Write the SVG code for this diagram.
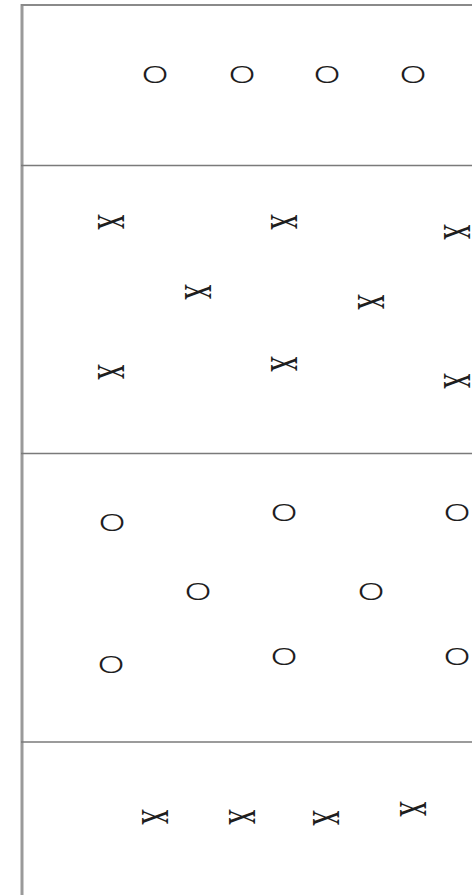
<svg xmlns="http://www.w3.org/2000/svg" width="472" height="895" viewBox="0 0 472 895">
<style>
.bg{fill:#ffffff}
.frame{stroke:#9a9a9a;stroke-width:3;fill:none}
.sep{stroke:#7a7a7a;stroke-width:1.5;fill:none}
.top{stroke:#8a8a8a;stroke-width:2;fill:none}
text{font-size:20px;fill:#1e1e1e;text-anchor:middle}
.x{font-family:"Liberation Serif","Times New Roman",serif}
.o{font-family:"DejaVu Sans",sans-serif;font-weight:200}
</style>
<rect class="bg" x="0" y="0" width="472" height="895"/>
<g id="lines">
<line class="frame" x1="22" y1="4" x2="22" y2="895"/>
<line class="top" x1="21" y1="5" x2="472" y2="5"/>
<line class="sep" x1="21" y1="165.5" x2="472" y2="165.5"/>
<line class="sep" x1="21" y1="453.5" x2="472" y2="453.5"/>
<line class="sep" x1="21" y1="742" x2="472" y2="742"/>
</g>
<g id="row1">
<g id="o1"><text class="o" transform="translate(155,74) scale(2.5,1.55)" y="5.5">o</text></g>
<g id="o2"><text class="o" transform="translate(242,74) scale(2.5,1.55)" y="5.5">o</text></g>
<g id="o3"><text class="o" transform="translate(327,74) scale(2.5,1.55)" y="5.5">o</text></g>
<g id="o4"><text class="o" transform="translate(413,74) scale(2.5,1.55)" y="5.5">o</text></g>
</g>
<g id="row2">
<g id="x1"><text class="x" transform="translate(111,222) rotate(90) scale(1.55,2.9)" y="4.6">x</text></g>
<g id="x2"><text class="x" transform="translate(284,222) rotate(90) scale(1.55,2.9)" y="4.6">x</text></g>
<g id="x3"><text class="x" transform="translate(457,232) rotate(90) scale(1.55,2.9)" y="4.6">x</text></g>
<g id="x4"><text class="x" transform="translate(198,292) rotate(90) scale(1.55,2.9)" y="4.6">x</text></g>
<g id="x5"><text class="x" transform="translate(371,302) rotate(90) scale(1.55,2.9)" y="4.6">x</text></g>
<g id="x6"><text class="x" transform="translate(111,372) rotate(90) scale(1.55,2.9)" y="4.6">x</text></g>
<g id="x7"><text class="x" transform="translate(284,364) rotate(90) scale(1.55,2.9)" y="4.6">x</text></g>
<g id="x8"><text class="x" transform="translate(457,381) rotate(90) scale(1.55,2.9)" y="4.6">x</text></g>
</g>
<g id="row3">
<g id="o5"><text class="o" transform="translate(112,522) scale(2.5,1.55)" y="5.5">o</text></g>
<g id="o6"><text class="o" transform="translate(284,512) scale(2.5,1.55)" y="5.5">o</text></g>
<g id="o7"><text class="o" transform="translate(457,512) scale(2.5,1.55)" y="5.5">o</text></g>
<g id="o8"><text class="o" transform="translate(198,591) scale(2.5,1.55)" y="5.5">o</text></g>
<g id="o9"><text class="o" transform="translate(371,591) scale(2.5,1.55)" y="5.5">o</text></g>
<g id="o10"><text class="o" transform="translate(111,664) scale(2.5,1.55)" y="5.5">o</text></g>
<g id="o11"><text class="o" transform="translate(284,656) scale(2.5,1.55)" y="5.5">o</text></g>
<g id="o12"><text class="o" transform="translate(457,656) scale(2.5,1.55)" y="5.5">o</text></g>
</g>
<g id="row4">
<g id="x9"><text class="x" transform="translate(155,817) rotate(90) scale(1.55,2.9)" y="4.6">x</text></g>
<g id="x10"><text class="x" transform="translate(242,817) rotate(90) scale(1.55,2.9)" y="4.6">x</text></g>
<g id="x11"><text class="x" transform="translate(326,818) rotate(90) scale(1.55,2.9)" y="4.6">x</text></g>
<g id="x12"><text class="x" transform="translate(413,809) rotate(90) scale(1.55,2.9)" y="4.6">x</text></g>
</g>
</svg>
